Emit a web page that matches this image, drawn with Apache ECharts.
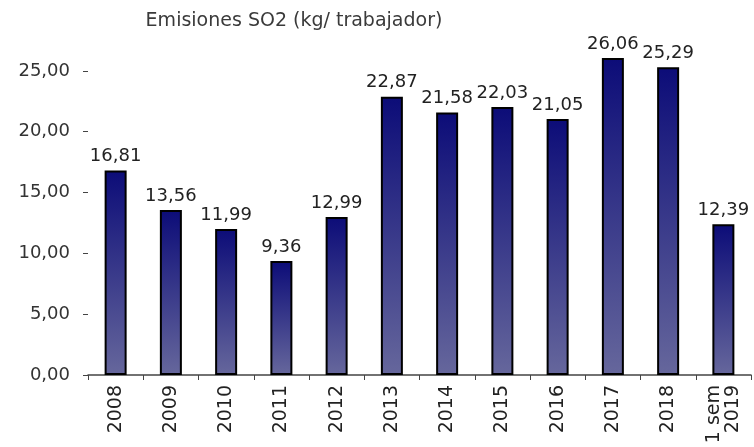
<!DOCTYPE html>
<html>
<head>
<meta charset="utf-8">
<script src="https://cdn.jsdelivr.net/npm/echarts@6/dist/echarts.min.js"></script>
<style>
  html, body { margin: 0; padding: 0; background: #fff; }
  #chart { width: 754px; height: 447px; }
</style>
</head>
<body>
<div id="chart"></div>
<script>
// categories and values
const years = ['2008', '2009', '2010', '2011', '2012', '2013', '2014', '2015', '2016', '2017', '2018', '1 sem\n2019']
const emisiones = [16.81, 13.56, 11.99, 9.36, 12.99, 22.87, 21.58, 22.03, 21.05, 26.06, 25.29, 12.39]
const yTicks = [0, 5, 10, 15, 20, 25]

const chart = echarts.init(document.getElementById('chart'))

const fmt = v => v.toFixed(2).replace('.', ',')

const option = {
  animation: false,
  title: {
    text: 'Emisiones SO2 (kg/ trabajador)',
    left: 289,
    top: 7,
    textAlign: 'center',
    textStyle: { fontSize: 19, fontWeight: 'normal', color: '#3a3a3a', fontFamily: 'DejaVu Sans' }
  },
  grid: { left: 88, right: 3, top: 10, bottom: 72 },
  xAxis: {
    type: 'category',
    data: years,
    axisLine: { lineStyle: { color: '#444', width: 1.5 } },
    axisTick: { show: true, length: 5, lineStyle: { color: '#444' } },
    axisLabel: {
      rotate: 90,
      margin: 10,
      fontSize: 19,
      lineHeight: 19,
      color: '#222',
      fontFamily: 'DejaVu Sans'
    }
  },
  yAxis: {
    type: 'value',
    min: 0,
    max: 30,
    interval: 5,
    splitLine: { show: false },
    axisLine: { show: false },
    axisTick: { show: true, length: 5, customValues: yTicks, lineStyle: { color: '#444' } },
    axisLabel: {
      customValues: yTicks,
      margin: 18,
      fontSize: 18,
      color: '#333',
      fontFamily: 'DejaVu Sans',
      formatter: fmt
    }
  },
  series: [{
    type: 'bar',
    data: emisiones,
    barWidth: 22,
    itemStyle: {
      borderColor: '#000',
      borderWidth: 2,
      color: new echarts.graphic.LinearGradient(0, 0, 0, 1, [
        { offset: 0, color: '#0c0c78' },
        { offset: 1, color: '#66679c' }
      ])
    },
    label: {
      show: true,
      position: 'top',
      distance: 5,
      fontSize: 18,
      color: '#222',
      fontFamily: 'DejaVu Sans',
      formatter: p => fmt(p.value)
    }
  }]
}

chart.setOption(option)
</script>
</body>
</html>
